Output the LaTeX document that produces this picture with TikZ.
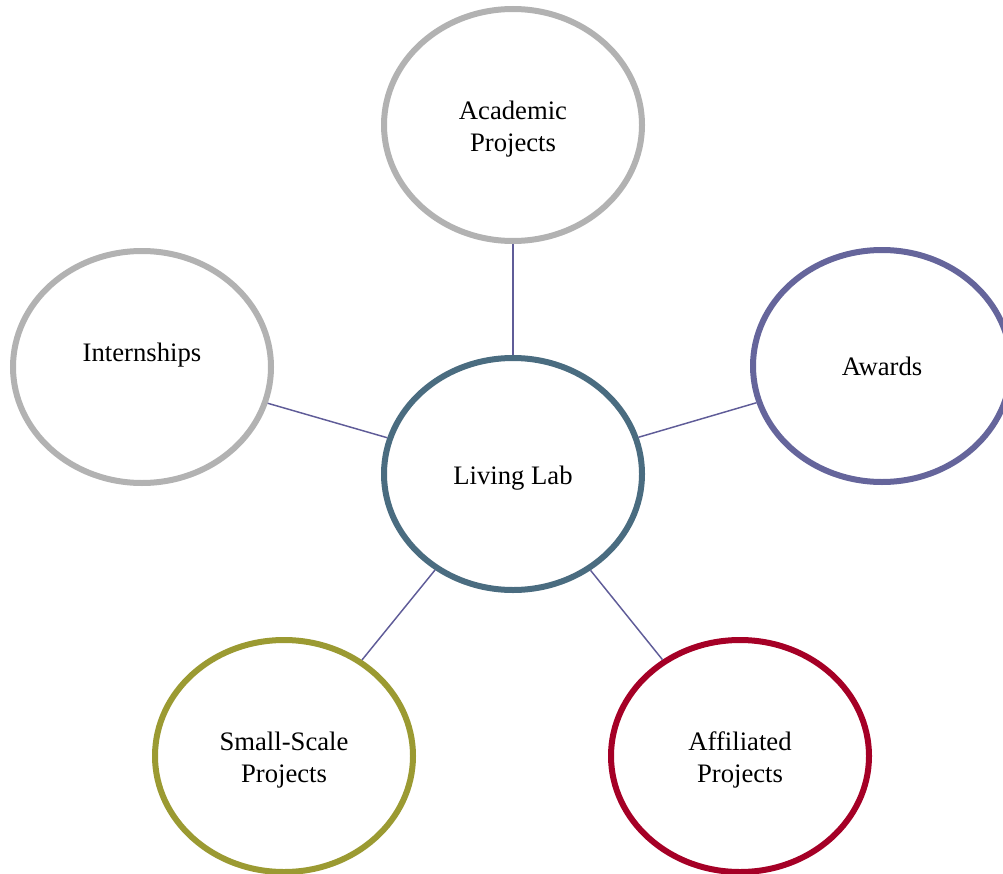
\documentclass[tikz,border=0pt]{standalone}
\usepackage{fontspec}
\setmainfont{Liberation Serif}
\usetikzlibrary{shapes.geometric}

\definecolor{ringgray}{HTML}{B2B2B2}
\definecolor{ringpurple}{HTML}{65659B}
\definecolor{ringteal}{HTML}{4A6C80}
\definecolor{ringolive}{HTML}{9B9A32}
\definecolor{ringred}{HTML}{A50026}
\definecolor{linkcolor}{HTML}{5F5C98}

\tikzset{
  ring/.style={ellipse, draw=#1, line width=4.5pt, fill=white,
               minimum width=193.5pt, minimum height=174pt, inner sep=0pt},
  caption/.style={font=\fontsize{20pt}{24pt}\selectfont, align=center, inner sep=0pt},
  link/.style={draw=linkcolor, line width=1.1pt}
}

\begin{document}
\begin{tikzpicture}[x=0.75pt, y=-0.75pt]
  \useasboundingbox (0,0) rectangle (1003,874);
  \clip (0,0) rectangle (1003,874);

  % rings
  \node[ring=ringteal]   (hub)     at (513,474) {};
  \node[ring=ringgray]   (acad)    at (513,125) {};
  \node[ring=ringgray]   (intern)  at (142,367) {};
  \node[ring=ringpurple] (awards)  at (882,366) {};
  \node[ring=ringolive]  (small)   at (284,756) {};
  \node[ring=ringred]    (affil)   at (740,756) {};

  % spokes from the hub
  \draw[link] (hub) -- (acad);
  \draw[link] (hub) -- (intern);
  \draw[link] (hub) -- (awards);
  \draw[link] (hub) -- (small);
  \draw[link] (hub) -- (affil);

  % captions
  \node[caption] (hubtext)    at ([yshift=-3pt]hub.center)    {Living Lab};
  \node[caption] (acadtext)   at ([yshift=-3pt]acad.center)   {Academic\\Projects};
  \node[caption] (interntext) at ([yshift=9pt]intern.center)  {Internships};
  \node[caption] (awardstext) at ([yshift=-0.5pt]awards.center) {Awards};
  \node[caption] (smalltext)  at ([yshift=-3pt]small.center)  {Small-Scale\\Projects};
  \node[caption] (affiltext)  at ([yshift=-3pt]affil.center)  {Affiliated\\Projects};
\end{tikzpicture}
\end{document}
